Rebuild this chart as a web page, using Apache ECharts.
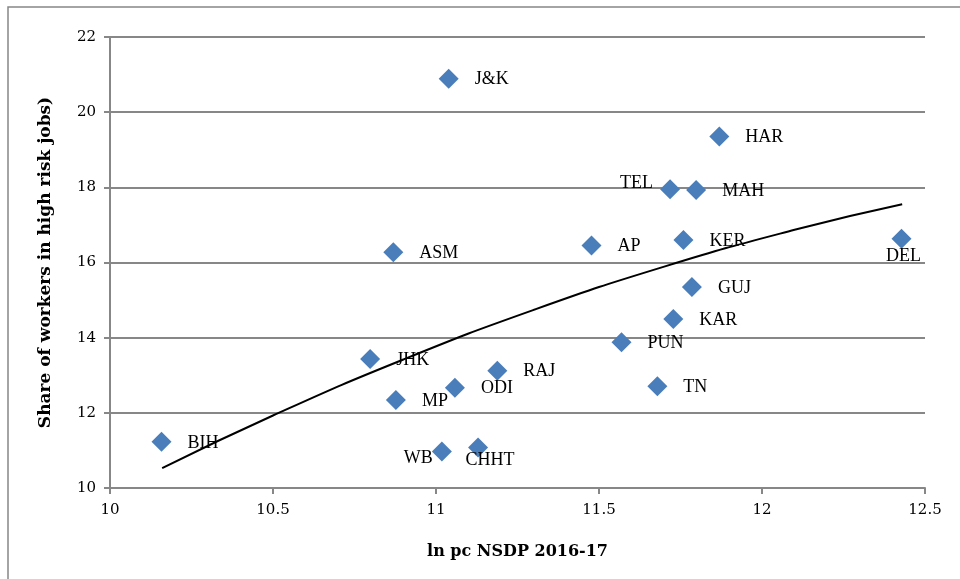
<!DOCTYPE html>
<html>
<head>
<meta charset="utf-8">
<script src="https://cdn.jsdelivr.net/npm/echarts@6/dist/echarts.min.js"></script>
<style>
  html, body { margin: 0; padding: 0; background: #fff; }
  #chart { width: 960px; height: 579px; }
</style>
</head>
<body>
<div id="chart"></div>
<script>
// states, ln per capita NSDP 2016-17, share of workers in high risk jobs
var states = ['BIH', 'JHK', 'MP', 'ODI', 'WB', 'ASM', 'J&K', 'CHHT', 'RAJ', 'PUN', 'TN', 'KAR', 'GUJ', 'HAR', 'TEL', 'MAH', 'AP', 'KER', 'DEL'];
var lnNsdp = [10.158, 10.798, 10.877, 11.058, 11.018, 10.869, 11.039, 11.129, 11.188, 11.569, 11.679, 11.728, 11.785, 11.869, 11.718, 11.798, 11.477, 11.759, 12.428];
var riskShare = [11.23, 13.43, 12.34, 12.67, 10.97, 16.27, 20.89, 11.08, 13.12, 13.88, 12.71, 14.50, 15.35, 19.35, 17.95, 17.93, 16.45, 16.60, 16.63];

// trend curve
var trendX = [10.16, 10.5, 10.9, 11.3, 11.7, 12.1, 12.43];
var trendY = [10.53, 11.93, 13.42, 14.74, 15.89, 16.87, 17.55];

var xTicks = { min: 10, max: 12.5, step: 0.5 };
var yTicks = { min: 10, max: 22, step: 2 };

// label placement for the states that are not simply labelled on the right
var labelPlace = {
    'TEL': { position: 'left', distance: 7, offset: [0, -6] },
    'DEL': { position: 'bottom', distance: -2, offset: [2, 0] },
    'CHHT': { position: 'bottom', distance: -6, offset: [12, 0] },
    'WB': { position: 'left', distance: -1, offset: [0, 7] }
};

var myChart = echarts.init(document.getElementById('chart'));

var pts = states.map(function (s, i) {
    var item = { name: s, value: [lnNsdp[i], riskShare[i]] };
    var p = labelPlace[s];
    if (p) {
        item.label = { position: p.position, distance: p.distance, offset: p.offset };
    } else {
        item.label = { position: 'right', distance: 16, offset: [0, 1] };
    }
    return item;
});

var trend = trendX.map(function (x, i) { return [x, trendY[i]]; });

var axisGrey = '#878787';

option = {
    animation: false,
    backgroundColor: '#fff',
    graphic: [{
        type: 'rect',
        shape: { x: 8, y: 7, width: 1200, height: 1000 },
        style: { fill: 'none', stroke: axisGrey, lineWidth: 1.5 },
        silent: true
    }],
    grid: { left: 110, right: 35, top: 37, bottom: 91 },
    xAxis: {
        type: 'value',
        min: xTicks.min,
        max: xTicks.max,
        interval: xTicks.step,
        name: 'ln pc NSDP 2016-17',
        nameLocation: 'middle',
        nameGap: 56,
        nameTextStyle: { fontFamily: 'DejaVu Serif', fontWeight: 'bold', fontSize: 16, color: '#000' },
        axisLine: { show: true, lineStyle: { color: axisGrey, width: 2 } },
        axisTick: { show: true, inside: false, length: 6, lineStyle: { color: axisGrey, width: 2 } },
        axisLabel: { fontFamily: 'DejaVu Serif', fontSize: 15, color: '#000', margin: 15 },
        splitLine: { show: false }
    },
    yAxis: {
        type: 'value',
        min: yTicks.min,
        max: yTicks.max,
        interval: yTicks.step,
        name: 'Share of workers in high risk jobs)',
        nameLocation: 'middle',
        nameGap: 56,
        nameTextStyle: { fontFamily: 'DejaVu Serif', fontWeight: 'bold', fontSize: 17, color: '#000' },
        axisLine: { show: true, lineStyle: { color: axisGrey, width: 2 } },
        axisTick: { show: true, length: 6, lineStyle: { color: axisGrey, width: 2 } },
        axisLabel: { fontFamily: 'DejaVu Serif', fontSize: 15, color: '#000', margin: 14 },
        splitLine: { show: true, lineStyle: { color: axisGrey, width: 2 } }
    },
    series: [
        {
            type: 'scatter',
            symbol: 'diamond',
            symbolSize: [20, 20],
            itemStyle: { color: '#4a7ebb', opacity: 1 },
            label: {
                show: true,
                formatter: '{b}',
                fontFamily: 'Liberation Serif',
                fontSize: 18,
                color: '#000'
            },
            data: pts,
            z: 3
        },
        {
            type: 'line',
            smooth: true,
            showSymbol: false,
            symbol: 'none',
            lineStyle: { color: '#000', width: 2 },
            data: trend,
            z: 4
        }
    ]
};
myChart.setOption(option);
</script>
</body>
</html>
